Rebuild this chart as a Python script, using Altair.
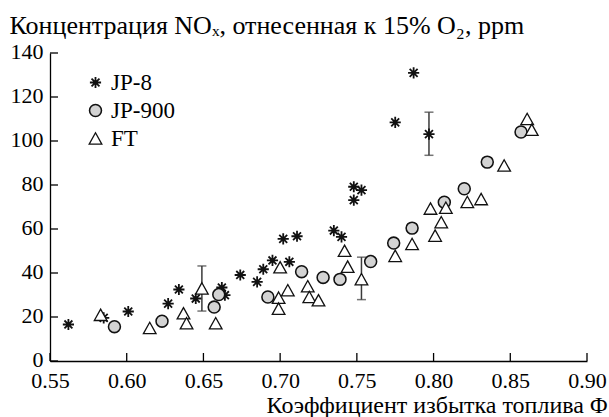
import altair as alt
import pandas as pd

# ---- data ----
series_names = ["JP-8", "JP-900", "FT"]

jp8_phi = [0.562, 0.585, 0.601, 0.627, 0.634, 0.645, 0.662, 0.664, 0.674, 0.685, 0.689, 0.695,
           0.706, 0.702, 0.711, 0.735, 0.740, 0.748, 0.753, 0.748, 0.775, 0.787, 0.797]
jp8_nox = [16.6, 19.6, 22.5, 26.1, 32.5, 28.4, 33.4, 29.9, 39.1, 36.0, 41.7, 45.7,
           45.1, 55.5, 56.7, 59.3, 56.4, 79.2, 77.7, 73.1, 108.5, 131.0, 103.1]

jp900_phi = [0.592, 0.623, 0.657, 0.660, 0.692, 0.714, 0.728, 0.739, 0.759, 0.774, 0.786,
             0.807, 0.820, 0.835, 0.857]
jp900_nox = [15.6, 18.1, 24.5, 30.2, 29.1, 40.6, 38.0, 37.1, 45.2, 53.6, 60.4,
             72.2, 78.3, 90.4, 104.1]

ft_phi = [0.583, 0.615, 0.637, 0.639, 0.649, 0.658, 0.699, 0.699, 0.700, 0.705, 0.718, 0.719,
          0.725, 0.742, 0.744, 0.753, 0.775, 0.786, 0.798, 0.801, 0.805, 0.808, 0.822, 0.831,
          0.846, 0.861, 0.864]
ft_nox = [21.0, 15.0, 21.7, 17.2, 33.0, 17.2, 28.8, 23.8, 42.6, 32.2, 34.0, 29.1,
          27.6, 50.1, 42.9, 37.2, 47.8, 53.2, 69.3, 57.0, 63.1, 69.7, 72.3, 73.6,
          88.9, 110.0, 105.1]

err_phi = [0.649, 0.753, 0.797]
err_lo = [22.7, 27.9, 93.5]
err_hi = [43.2, 47.2, 113.1]

x_ticks = [0.55, 0.60, 0.65, 0.70, 0.75, 0.80, 0.85, 0.90]
y_ticks = [0, 20, 40, 60, 80, 100, 120, 140]

# ---- tables ----
rows = []
for name, xs, ys in zip(series_names, [jp8_phi, jp900_phi, ft_phi], [jp8_nox, jp900_nox, ft_nox]):
    for a, b in zip(xs, ys):
        rows.append({"series": name, "phi": a, "nox": b})
df = pd.DataFrame(rows)
err_df = pd.DataFrame({"phi": err_phi, "nox": err_lo, "hi": err_hi})
xt_df = pd.DataFrame({"phi": x_ticks})
yt_df = pd.DataFrame({"nox": y_ticks})

# ---- layout / style ----
W, H = 537, 308
FONT = "Liberation Serif, Times New Roman, DejaVu Serif, serif"
FS_LAB = 22
TICK = 8
asterisk = "M-1,0L1,0M0,-1L0,1M-0.71,-0.71L0.71,0.71M-0.71,0.71L0.71,-0.71"
triangle = "M0,-0.9L1,0.9L-1,0.9Z"

xscale = alt.Scale(domain=[0.55, 0.90], nice=False, zero=False)
yscale = alt.Scale(domain=[0, 140], nice=False)

x_axis = alt.Axis(values=x_ticks, format=".2f", ticks=False, grid=False, labelPadding=9,
                  labelFlush=False, labelOverlap=False,
                  title="Коэффициент избытка топлива Φ", titleAngle=0, titleFontSize=24,
                  titleX=W + 20, titleY=51, titleAlign="right", titleBaseline="alphabetic")
y_axis = alt.Axis(values=y_ticks, ticks=False, grid=False, labelPadding=7, labelOffset=-2,
                  labelFlush=False, labelOverlap=False,
                  title="Концентрация NOₓ, отнесенная к 15% O₂, ppm", titleAngle=0, titleFontSize=26,
                  titleX=-41, titleY=-20, titleAlign="left", titleBaseline="alphabetic")

X = alt.X("phi:Q", scale=xscale, axis=x_axis)
Y = alt.Y("nox:Q", scale=yscale, axis=y_axis)

leg = alt.Legend(title=None, orient="none", legendX=34, legendY=18, padding=0,
                 labelFont=FONT, labelFontSize=23, labelColor="black", labelOffset=4,
                 rowPadding=4)

points = alt.Chart(df).mark_point(filled=True, opacity=1).encode(
    x=X, y=Y,
    shape=alt.Shape("series:N", scale=alt.Scale(domain=series_names, range=[asterisk, "circle", triangle]), legend=leg),
    fill=alt.Fill("series:N", scale=alt.Scale(domain=series_names, range=["#000000", "#d3d3d3", "#ffffff"]), legend=leg),
    stroke=alt.Stroke("series:N", scale=alt.Scale(domain=series_names, range=["#111111", "#111111", "#111111"]), legend=leg),
    strokeWidth=alt.StrokeWidth("series:N", scale=alt.Scale(domain=series_names, range=[1.8, 1.3, 1.3]), legend=leg),
    size=alt.Size("series:N", scale=alt.Scale(domain=series_names, range=[125, 160, 121]), legend=leg),
)

err_rule = alt.Chart(err_df).mark_rule(color="#3a3a3a", strokeWidth=1.5).encode(
    x=X, y=Y, y2="hi:Q",
)
cap_lo = alt.Chart(err_df).mark_tick(color="#3a3a3a", orient="horizontal", size=9, thickness=1.5).encode(
    x=X, y=Y,
)
cap_hi = alt.Chart(err_df).mark_tick(color="#3a3a3a", orient="horizontal", size=9, thickness=1.5).encode(
    x=X, y=alt.Y("hi:Q", scale=yscale, axis=y_axis),
)

xticks = alt.Chart(xt_df).mark_rule(color="black", strokeWidth=1.3).encode(
    x=X, y=alt.value(H), y2=alt.value(H - TICK),
)
yticks = alt.Chart(yt_df).mark_rule(color="black", strokeWidth=1.3).encode(
    y=Y, x=alt.value(0), x2=alt.value(TICK),
)

chart = alt.layer(err_rule, cap_lo, cap_hi, points, xticks, yticks).properties(
    width=W, height=H,
    autosize=alt.AutoSizeParams(type="none"),
    padding={"left": 50, "top": 53, "right": 22, "bottom": 56},
).configure(font=FONT).configure_view(stroke=None).configure_axis(
    domainColor="black", domainWidth=1.3,
    labelFont=FONT, labelFontSize=FS_LAB, labelColor="black",
    titleFont=FONT, titleColor="black", titleFontWeight="normal",
).configure_legend(labelFont=FONT)

chart.save("out.html", embed_options={"renderer": "svg", "actions": False})
